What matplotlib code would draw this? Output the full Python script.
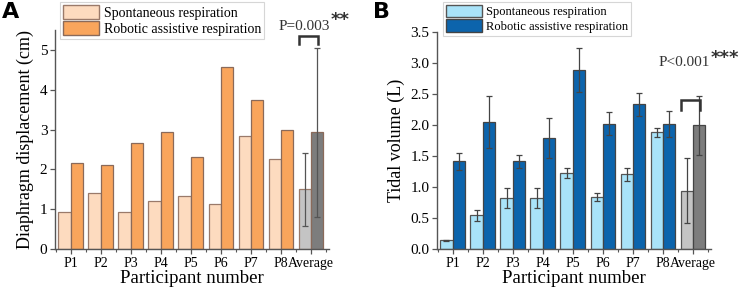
import matplotlib
matplotlib.use("Agg")
import matplotlib.pyplot as plt
import numpy as np
from matplotlib.patches import Patch

plt.rcParams['font.family'] = ['Liberation Serif', 'DejaVu Serif']

categories = ["P1", "P2", "P3", "P4", "P5", "P6", "P7", "P8", "Average"]

# Panel A: diaphragm displacement (cm)
a_spont = [0.92, 1.41, 0.92, 1.21, 1.34, 1.13, 2.84, 2.26, 1.50]
a_robot = [2.17, 2.12, 2.67, 2.95, 2.31, 4.57, 3.73, 3.00, 2.93]
a_spont_avg_err = 0.92
a_robot_avg_err = 2.13

# Panel B: tidal volume (L)
b_spont = [0.14, 0.54, 0.82, 0.82, 1.23, 0.84, 1.20, 1.88, 0.94]
b_spont_err = [0.01, 0.09, 0.16, 0.16, 0.08, 0.07, 0.11, 0.07, 0.52]
b_robot = [1.41, 2.04, 1.41, 1.79, 2.88, 2.02, 2.33, 2.02, 1.99]
b_robot_err = [0.14, 0.42, 0.11, 0.32, 0.35, 0.18, 0.18, 0.21, 0.48]

fig = plt.figure(figsize=(7.4, 2.94), dpi=100)
axA = fig.add_axes([55/740, 1-249/294, 274/740, (249-30)/294])
axB = fig.add_axes([437/740, 1-249/294, 274/740, (249-31.7)/294])

x = np.arange(len(categories))
w = 0.41
avg_light = '#c4c4c4'
avg_dark = '#7d7d7d'

def style_axes(ax, ylim, yticks, yticklabels):
    ax.set_xlim(-0.52, 8.6)
    ax.set_ylim(*ylim)
    for s in ['top', 'right']:
        ax.spines[s].set_visible(False)
    for s in ['left', 'bottom']:
        ax.spines[s].set_color('#555555')
        ax.spines[s].set_linewidth(1.0)
    ax.set_xticks(x)
    ax.set_xticklabels(categories, fontsize=10)
    ax.set_xticks(np.arange(-0.5, 8.6, 1.0), minor=True)
    ax.set_yticks(yticks)
    ax.set_yticklabels(yticklabels, fontsize=11)
    ax.tick_params(axis='both', which='major', direction='out', length=3.5, width=0.9, color='#555555', pad=2)
    ax.tick_params(axis='x', which='minor', direction='out', length=2.5, width=0.8, color='#555555')
    ax.set_xlabel("Participant number", fontsize=13.5, labelpad=0)
    lbls = ax.get_xticklabels()
    lbls[-1].set_x(lbls[-1].get_position()[0])

# ---- Panel A ----
a_sp_col = ['#fddbbf'] * 8 + [avg_light]
a_rb_col = ['#f9a55c'] * 8 + [avg_dark]
axA.bar(x - w/2, a_spont, w, color=a_sp_col, edgecolor='#9a7a6a', linewidth=0.9)
axA.bar(x + w/2, a_robot, w, color=a_rb_col, edgecolor='#8a6a5a', linewidth=0.9)
axA.errorbar([x[-1] - w/2], [a_spont[-1]], yerr=[a_spont_avg_err], fmt='none',
             ecolor='#555555', elinewidth=0.9, capsize=2.5, capthick=0.9)
axA.errorbar([x[-1] + w/2], [a_robot[-1]], yerr=[a_robot_avg_err], fmt='none',
             ecolor='#555555', elinewidth=0.9, capsize=2.5, capthick=0.9)
style_axes(axA, (0, 5.5), [0, 1, 2, 3, 4, 5], ['0', '1', '2', '3', '4', '5'])
axA.set_ylabel("Diaphragm displacement (cm)", fontsize=13, labelpad=4)

# bracket A
axA.plot([7.6, 7.6, 8.22, 8.22], [5.14, 5.35, 5.35, 5.14], color='#333333', lw=1.8,
         clip_on=False, solid_joinstyle='miter')
axA.text(8.62, 5.58, "P=0.003", fontsize=11, ha='right', va='center', color='#333333', clip_on=False)
axA.text(8.64, 5.74, "**", fontsize=13, ha='left', va='center', color='#333333', fontweight='bold',
         family=['DejaVu Sans'], clip_on=False)

legA = axA.legend(handles=[Patch(facecolor='#fddbbf', edgecolor='#9a7a6a', label='Spontaneous respiration'),
                           Patch(facecolor='#f9a55c', edgecolor='#8a6a5a', label='Robotic assistive respiration')],
                  loc='upper left', bbox_to_anchor=(60/740, 1-2/294), bbox_transform=fig.transFigure,
                  fontsize=10, frameon=True, fancybox=False, borderpad=0.2, labelspacing=0.1,
                  handlelength=2.6, handleheight=1.2, handletextpad=0.35, borderaxespad=0)
legA.get_frame().set_edgecolor('#cccccc')
legA.get_frame().set_linewidth(0.8)

# ---- Panel B ----
b_sp_col = ['#a9e3f9'] * 8 + [avg_light]
b_rb_col = ['#0c64ac'] * 8 + [avg_dark]
axB.bar(x - w/2, b_spont, w, color=b_sp_col, edgecolor='#555555', linewidth=0.9)
axB.bar(x + w/2, b_robot, w, color=b_rb_col, edgecolor='#444444', linewidth=0.9)
axB.errorbar(x - w/2, b_spont, yerr=b_spont_err, fmt='none',
             ecolor='#444444', elinewidth=0.9, capsize=2.5, capthick=0.9)
axB.errorbar(x + w/2, b_robot, yerr=b_robot_err, fmt='none',
             ecolor='#444444', elinewidth=0.9, capsize=2.5, capthick=0.9)
style_axes(axB, (0, 3.5), np.arange(0, 3.51, 0.5), [f"{v:.1f}" for v in np.arange(0, 3.51, 0.5)])
axB.set_ylabel("Tidal volume (L)", fontsize=13, labelpad=4)

axB.plot([7.61, 7.61, 8.24, 8.24], [2.24, 2.40, 2.40, 2.24], color='#333333', lw=1.8,
         clip_on=False, solid_joinstyle='miter')
axB.text(8.56, 3.0, "P<0.001", fontsize=11, ha='right', va='center', color='#333333', clip_on=False)
axB.text(8.58, 3.08, "***", fontsize=13, ha='left', va='center', color='#333333', fontweight='bold',
         family=['DejaVu Sans'], clip_on=False)

legB = axB.legend(handles=[Patch(facecolor='#a9e3f9', edgecolor='#555555', label='Spontaneous respiration'),
                           Patch(facecolor='#0c64ac', edgecolor='#444444', label='Robotic assistive respiration')],
                  loc='upper left', bbox_to_anchor=(443/740, 1-2/294), bbox_transform=fig.transFigure,
                  fontsize=9, frameon=True, fancybox=False, borderpad=0.2, labelspacing=0.1,
                  handlelength=2.9, handleheight=1.2, handletextpad=0.35, borderaxespad=0)
legB.get_frame().set_edgecolor('#cccccc')
legB.get_frame().set_linewidth(0.8)

fig.text(2/740, 1-12/294, "A", fontsize=16, fontweight='bold', family=['DejaVu Sans'], va='center', ha='left')
fig.text(373/740, 1-12/294, "B", fontsize=16, fontweight='bold', family=['DejaVu Sans'], va='center', ha='left')

fig.savefig("out.png", dpi=100)
